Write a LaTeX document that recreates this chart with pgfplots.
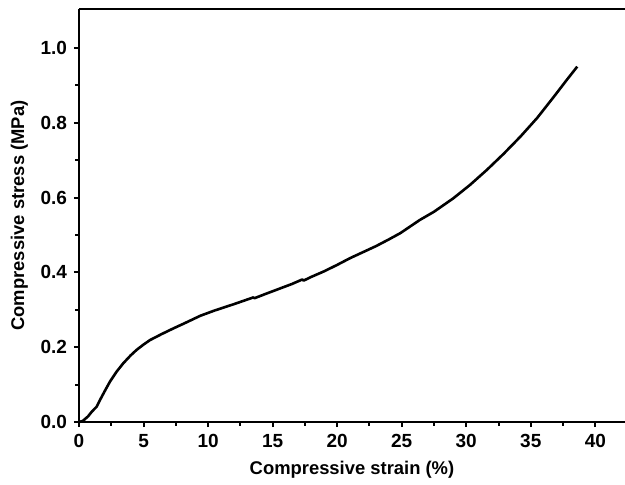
\documentclass[border=0pt]{standalone}
\usepackage{fontspec}
\setmainfont{Liberation Sans}
\usepackage{pgfplots}
\pgfplotsset{compat=1.18}
\begin{document}
\begin{tikzpicture}
\begin{axis}[
  scale only axis, width=273pt, height=206.5pt,
  xmin=0, xmax=42.3, ymin=0, ymax=1.104,
  axis x line*=bottom, axis y line*=left,
  axis line style={line width=1.4pt, -},
  xtick={0,5,10,15,20,25,30,35,40},
  ytick={0,0.2,0.4,0.6,0.8,1.0},
  minor x tick num=1, minor y tick num=1,
  tick align=outside,
  major tick length=2.5pt, minor tick length=1.8pt,
  tick style={line width=1pt, black},
  /pgf/number format/assume math mode=true,
  y tick label style={/pgf/number format/fixed, /pgf/number format/fixed zerofill, /pgf/number format/precision=1},
  ticklabel style={font=\bfseries\fontsize{9.5}{11}\selectfont},
  xlabel={Compressive strain (\%)},
  ylabel={Compressive stress (MPa)},
  label style={font=\bfseries\fontsize{9.2}{11}\selectfont},
  xlabel style={at={(axis description cs:0.5,0)}, anchor=north, yshift=-16pt},
  ylabel style={at={(axis description cs:0,0.5)}, anchor=south, xshift=0pt, yshift=22pt},
  clip=false,
]
\addplot[black, line width=1.3pt, line join=round] coordinates {
(0,0) (0.3,0.003) (0.7,0.015) (1.0,0.028) (1.37,0.041) (1.63,0.059) (2.0,0.083)
(2.4,0.108) (2.9,0.134) (3.43,0.157) (4.0,0.178) (4.47,0.193) (5.0,0.207)
(5.5,0.219) (6.4,0.235) (7.3,0.250) (8.3,0.266) (9.4,0.284) (10.5,0.298)
(12.0,0.315) (13.0,0.327) (13.5,0.333) (13.6,0.331) (14.5,0.343) (15.5,0.356)
(16.5,0.369) (17.3,0.381) (17.4,0.378) (18.0,0.388) (19.0,0.403) (20,0.420)
(21,0.438) (22,0.454) (23,0.470) (24,0.488) (24.9,0.505) (26.4,0.540)
(27.5,0.562) (29.0,0.598) (30.3,0.634) (31.6,0.674) (32.9,0.717) (34.2,0.763)
(35.5,0.813) (36.8,0.870) (37.8,0.915) (38.6,0.950)
};
\draw[line width=1.4pt] (rel axis cs:0,1) -- (rel axis cs:1,1);
\end{axis}
\pgfresetboundingbox
\path ([xshift=-39.5pt,yshift=-31pt]current axis.south west) rectangle ([yshift=4.5pt]current axis.north east);
\end{tikzpicture}
\end{document}
